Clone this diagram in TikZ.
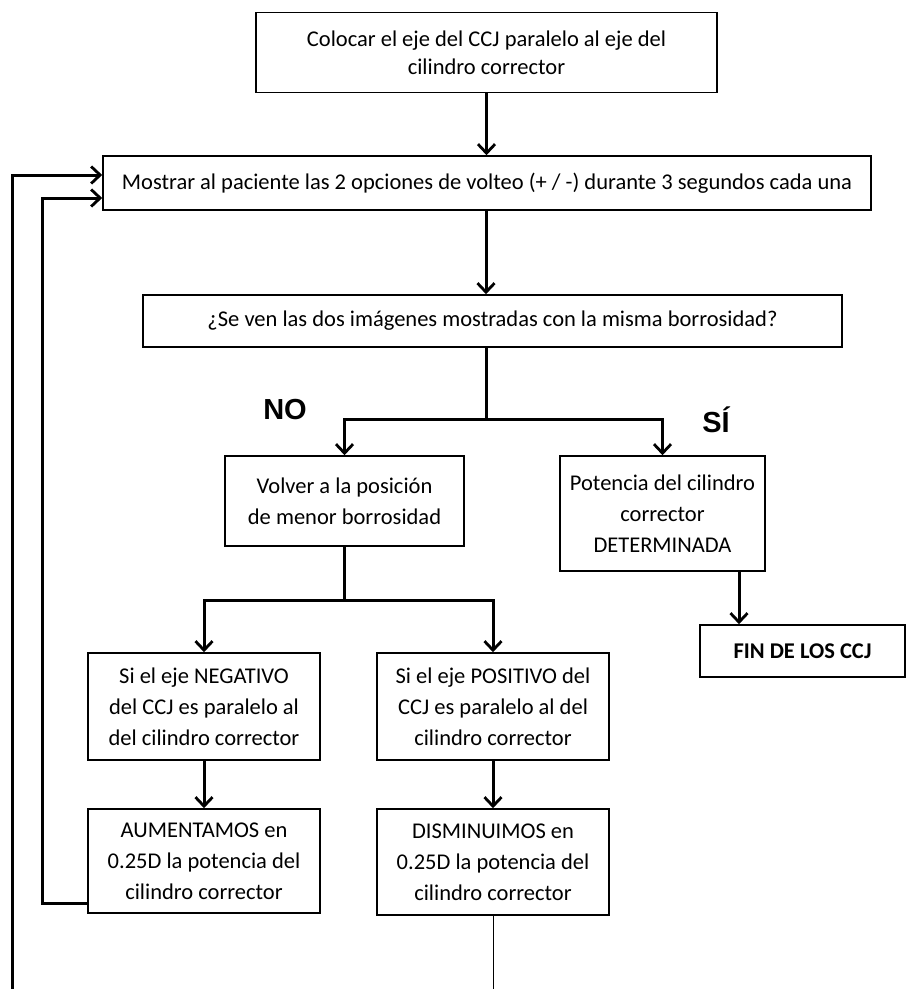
\documentclass[tikz,border=0pt]{standalone}
\usepackage{fontspec}
\setmainfont{Carlito}
\newfontfamily\answerfont{Liberation Sans}
\usetikzlibrary{arrows.meta,calc}

\begin{document}
\begin{tikzpicture}[x=1pt,y=-1pt,
  box/.style={draw,line width=1.6pt,align=center,inner sep=0pt,
    font=\fontsize{22.5}{31}\selectfont},
  flow/.style={line width=3pt,-{Straight Barb[length=9pt,width=17pt,line width=2.8pt]}},
  link/.style={line width=3pt},
  answer/.style={font=\answerfont\bfseries\fontsize{29}{34}\selectfont}]
\useasboundingbox (0,0) rectangle (912,989);
\node[box,minimum width=461pt,minimum height=80pt,font=\fontsize{22.5}{28}\selectfont] (place) at (486.5,52.5) {Colocar el eje del CCJ paralelo al eje del\\cilindro corrector};
\node[box,minimum width=768pt,minimum height=54pt] (show) at (487,183) {Mostrar al paciente las 2 opciones de volteo (+ / -) durante 3 segundos cada una};
\node[box,minimum width=699pt,minimum height=52pt] (ask) at (492.5,321) {¿Se ven las dos imágenes mostradas con la misma borrosidad?};
\node[box,minimum width=239pt,minimum height=90pt] (back) at (344.5,501) {Volver a la posición\\de menor borrosidad};
\node[box,minimum width=205pt,minimum height=115pt] (done) at (662.5,513.5) {Potencia del cilindro\\corrector\\DETERMINADA};
\node[box,minimum width=205pt,minimum height=52pt,font=\bfseries\fontsize{22.5}{31}\selectfont] (endbox) at (802.5,651) {FIN DE LOS CCJ};
\node[box,minimum width=232pt,minimum height=107pt] (neg) at (204,706.5) {Si el eje NEGATIVO\\del CCJ es paralelo al\\del cilindro corrector};
\node[box,minimum width=232pt,minimum height=107pt] (pos) at (493,706.5) {Si el eje POSITIVO del\\CCJ es paralelo al del\\cilindro corrector};
\node[box,minimum width=232pt,minimum height=104pt] (incr) at (204,861) {AUMENTAMOS en\\0.25D la potencia del\\cilindro corrector};
\node[box,minimum width=232pt,minimum height=106pt] (decr) at (493,862) {DISMINUIMOS en\\0.25D la potencia del\\cilindro corrector};
\node[answer] (no) at (285,410) {NO};
\node[answer] (si) at (716,420) {SÍ};
\coordinate (fork1) at (486,419);
\coordinate (fork2) at (344.5,600);
\coordinate (tap) at (739,0);
\coordinate (inA) at (42,198);
\coordinate (inB) at (42,903);
\coordinate (outA) at (12,175);
\coordinate (outB) at (12,989);
\coordinate (tail) at (493,989);
\draw[flow] (place) -- (place.south |- show.north);
\draw[flow] (show.south -| fork1) -- (ask.north -| fork1);
\draw[link] (ask.south -| fork1) -- (fork1);
\draw[flow] (fork1) -| (back);
\draw[flow] (fork1) -| (done);
\draw[link] (back) -- (fork2);
\draw[flow] (fork2) -| (neg);
\draw[flow] (fork2) -| (pos);
\draw[flow] (neg) -- (incr);
\draw[flow] (pos) -- (decr);
\draw[flow] (done.south -| tap) -- (endbox.north -| tap);
\draw[flow] (incr.west |- inB) -- (inB) -- (inA) -- (show.west |- inA);
\draw[flow] (outB) -- (outA) -- (show.west |- outA);
\draw[line width=1pt] (decr) -- (tail);
\end{tikzpicture}
\end{document}
